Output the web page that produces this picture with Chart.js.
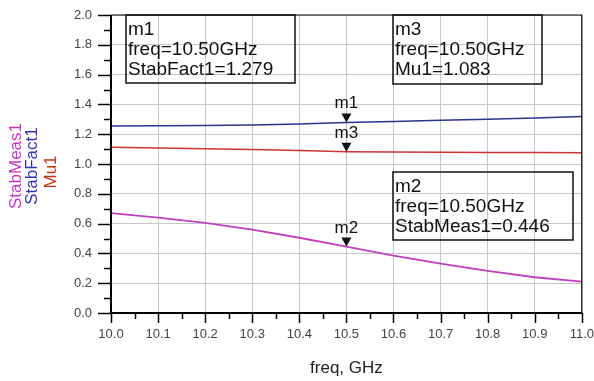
<!DOCTYPE html>
<html>
<head>
<meta charset="utf-8">
<script src="https://cdn.jsdelivr.net/npm/chart.js@4.4.0/dist/chart.umd.min.js"></script>
<style>
  html, body { margin: 0; padding: 0; background: #fff; }
  #wrap { width: 594px; height: 381px; }
</style>
</head>
<body>
<div id="wrap"><canvas id="chart" width="594" height="381"></canvas></div>
<script>
// sweep points, GHz
const freq = [10.0, 10.1, 10.2, 10.3, 10.4, 10.5, 10.6, 10.7, 10.8, 10.9, 11.0];
const stabFact1 = [1.255, 1.256, 1.258, 1.262, 1.268, 1.279, 1.286, 1.293, 1.300, 1.308, 1.318];
const mu1 = [1.112, 1.108, 1.103, 1.098, 1.090, 1.083, 1.080, 1.079, 1.078, 1.077, 1.076];
const stabMeas1 = [0.670, 0.640, 0.605, 0.560, 0.505, 0.446, 0.385, 0.332, 0.283, 0.240, 0.210];

// markers
const markerNames = ['m1', 'm2', 'm3'];
const markerFreq = [10.5, 10.5, 10.5];
const markerValues = [1.279, 0.446, 1.083];
const markerSeries = ['StabFact1', 'StabMeas1', 'Mu1'];

const FONT = '"Liberation Sans", Arial, sans-serif';

function pts(ys) {
  return freq.map((f, i) => ({ x: f, y: ys[i] }));
}

// marker readout boxes (m1, m2, m3)
const boxes = [
  { x: 126, y: 15, w: 169, h: 68 },
  { x: 393, y: 172, w: 180, h: 68 },
  { x: 393, y: 15, w: 149, h: 69 }
];

const extras = {
  id: 'extras',
  afterDraw(chart) {
    const ctx = chart.ctx;
    const a = chart.chartArea;
    const x = chart.scales.x, y = chart.scales.y;
    ctx.save();

    // frame
    ctx.strokeStyle = '#000';
    ctx.lineWidth = 1.2;
    ctx.beginPath();
    ctx.moveTo(a.left, a.top); ctx.lineTo(a.right, a.top); ctx.lineTo(a.right, a.bottom);
    ctx.stroke();
    ctx.lineWidth = 2;
    ctx.beginPath();
    ctx.moveTo(a.left, a.top); ctx.lineTo(a.left, a.bottom); ctx.lineTo(a.right, a.bottom);
    ctx.stroke();

    // tick marks
    ctx.lineWidth = 1.5;
    ctx.beginPath();
    x.ticks.forEach(t => {
      const major = Math.round(t.value * 100) % 10 === 0;
      const px = Math.round(x.getPixelForValue(t.value)) + 0.5;
      ctx.moveTo(px, a.bottom); ctx.lineTo(px, a.bottom + (major ? 10 : 6));
    });
    y.ticks.forEach(t => {
      const major = Math.round(t.value * 10) % 2 === 0;
      const py = Math.round(y.getPixelForValue(t.value)) + 0.5;
      ctx.moveTo(a.left, py); ctx.lineTo(a.left - (major ? 13 : 7), py);
    });
    ctx.stroke();

    // markers
    ctx.fillStyle = '#111';
    ctx.font = '17px ' + FONT;
    ctx.textAlign = 'center';
    ctx.textBaseline = 'alphabetic';
    markerNames.forEach((name, i) => {
      const px = x.getPixelForValue(markerFreq[i]);
      const py = y.getPixelForValue(markerValues[i]);
      ctx.beginPath();
      ctx.moveTo(px - 5, py - 9); ctx.lineTo(px + 5, py - 9); ctx.lineTo(px, py);
      ctx.closePath();
      ctx.fill();
      ctx.fillText(name, px, py - 14);
    });

    // readout boxes
    ctx.strokeStyle = '#111';
    ctx.lineWidth = 1.5;
    ctx.textAlign = 'left';
    ctx.font = '19px ' + FONT;
    boxes.forEach((b, i) => {
      ctx.strokeRect(b.x, b.y, b.w, b.h);
      const lines = [
        markerNames[i],
        'freq=' + markerFreq[i].toFixed(2) + 'GHz',
        markerSeries[i] + '=' + markerValues[i].toFixed(3)
      ];
      lines.forEach((s, k) => ctx.fillText(s, b.x + 2, b.y + 20 + k * 20));
    });

    // coloured y-axis labels
    ctx.font = '17px ' + FONT;
    ctx.textAlign = 'center';
    ctx.textBaseline = 'middle';
    [['StabMeas1', '#cc33cc', 16, 166], ['StabFact1', '#3333bb', 32, 166], ['Mu1', '#cc3311', 51, 172]]
      .forEach(([txt, col, cx, cy]) => {
        ctx.save();
        ctx.translate(cx, cy);
        ctx.rotate(-Math.PI / 2);
        ctx.fillStyle = col;
        ctx.fillText(txt, 0, 0);
        ctx.restore();
      });

    ctx.restore();
  }
};

new Chart(document.getElementById('chart'), {
  type: 'line',
  data: {
    datasets: [
      { label: 'StabFact1', data: pts(stabFact1), borderColor: '#2b3591', borderWidth: 1.5, pointRadius: 0 },
      { label: 'Mu1', data: pts(mu1), borderColor: '#cc3333', borderWidth: 1.5, pointRadius: 0 },
      { label: 'StabMeas1', data: pts(stabMeas1), borderColor: '#c040c0', borderWidth: 1.8, pointRadius: 0 }
    ]
  },
  options: {
    responsive: false,
    animation: false,
    devicePixelRatio: 1,
    layout: { padding: { left: 0, right: 0, top: 15, bottom: 0 } },
    plugins: { legend: { display: false }, tooltip: { enabled: false } },
    scales: {
      x: {
        type: 'linear',
        min: 10, max: 11,
        afterFit: s => { s.height = 68; },
        border: { display: false },
        grid: {
          drawTicks: true,
          tickLength: 14,
          tickColor: 'rgba(0,0,0,0)',
          color: c => (c.tick && Math.round(c.tick.value * 100) % 10 === 0) ? '#c8c8c8' : 'rgba(0,0,0,0)'
        },
        ticks: {
          stepSize: 0.05,
          autoSkip: false,
          maxRotation: 0,
          padding: 0,
          color: '#444',
          font: { family: FONT, size: 13 },
          callback: v => Math.round(v * 100) % 10 === 0 ? v.toFixed(1) : ''
        },
        title: {
          display: true,
          text: 'freq, GHz',
          color: '#222',
          font: { family: FONT, size: 17 },
          padding: { top: 0, bottom: 2 }
        }
      },
      y: {
        min: 0, max: 2,
        afterFit: s => { s.width = 111; },
        border: { display: false },
        grid: {
          drawTicks: true,
          tickLength: 19,
          tickColor: 'rgba(0,0,0,0)',
          color: c => (c.tick && Math.round(c.tick.value * 10) % 2 === 0) ? '#c8c8c8' : 'rgba(0,0,0,0)'
        },
        ticks: {
          stepSize: 0.1,
          autoSkip: false,
          padding: 0,
          color: '#444',
          font: { family: FONT, size: 13 },
          callback: v => Math.round(v * 10) % 2 === 0 ? v.toFixed(1) : ''
        }
      }
    }
  },
  plugins: [extras]
});
</script>
</body>
</html>
